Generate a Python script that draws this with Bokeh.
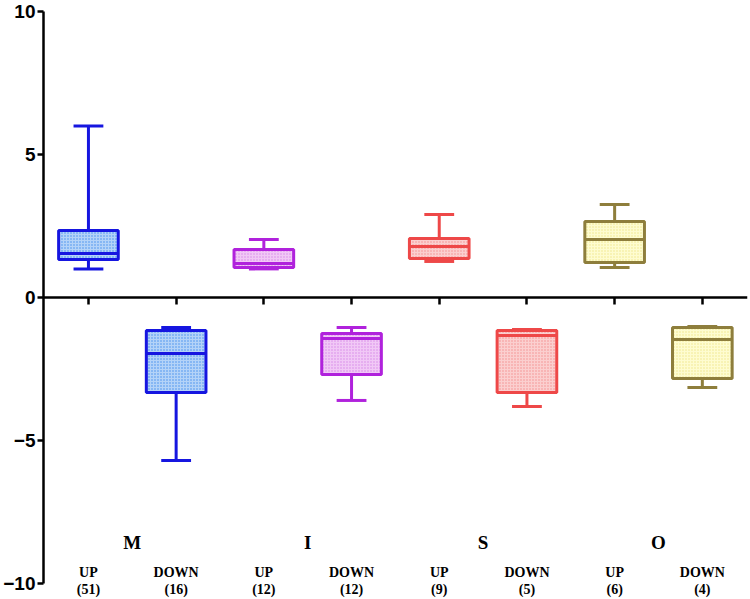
from bokeh.plotting import figure
from bokeh.models import Range1d, FixedTicker, ColumnDataSource, Label
from bokeh.embed import file_html
from bokeh.resources import INLINE

# ---- data ----
groups = ["M", "I", "S", "O"]
directions = ["UP", "DOWN", "UP", "DOWN", "UP", "DOWN", "UP", "DOWN"]
counts = [51, 16, 12, 12, 9, 5, 6, 4]
mins = [1.00, -5.70, 1.00, -3.60, 1.26, -3.81, 1.05, -3.15]
q1 = [1.33, -3.32, 1.05, -2.69, 1.36, -3.32, 1.22, -2.83]
medians = [1.54, -1.96, 1.19, -1.43, 1.78, -1.33, 2.03, -1.47]
q3 = [2.34, -1.15, 1.68, -1.26, 2.06, -1.15, 2.66, -1.05]
maxs = [6.00, -1.05, 2.03, -1.05, 2.90, -1.12, 3.25, -1.01]
y_ticks = [-10, -5, 0, 5, 10]

# ---- styling ----
line_colors = {"M": "#1616e0", "I": "#b022dc", "S": "#ee4848", "O": "#8e7e3c"}
fill_colors = {"M": "#b4d3f8", "I": "#f1c8f6", "S": "#fbcfcf", "O": "#fefcd0"}
hatch_colors = {"M": "#3f8cec", "I": "#d486e6", "S": "#f28e8e", "O": "#efe68a"}

pos = list(range(1, len(counts) + 1))
grp_of = [groups[i // 2] for i in range(len(counts))]
box_w = 0.68
cap_w = 0.34

src = ColumnDataSource(dict(
    x=pos, lo=mins, q1=q1, med=medians, q3=q3, hi=maxs,
    xl=[p - box_w / 2 for p in pos], xr=[p + box_w / 2 for p in pos],
    cl=[p - cap_w / 2 for p in pos], cr=[p + cap_w / 2 for p in pos],
    lc=[line_colors[g] for g in grp_of],
    fc=[fill_colors[g] for g in grp_of],
    hc=[hatch_colors[g] for g in grp_of],
))

p = figure(width=750, height=599, output_backend="svg", toolbar_location=None,
           x_range=Range1d(0.4875, 8.515), y_range=Range1d(-10.56, 10),
           min_border_left=43, min_border_right=3, min_border_top=11,
           min_border_bottom=0)
p.outline_line_color = None
p.grid.visible = False
p.background_fill_color = "white"

# whiskers
p.segment(x0="x", y0="q3", x1="x", y1="hi", source=src, line_color="lc", line_width=3)
p.segment(x0="x", y0="q1", x1="x", y1="lo", source=src, line_color="lc", line_width=3)
p.segment(x0="cl", y0="hi", x1="cr", y1="hi", source=src, line_color="lc", line_width=3)
p.segment(x0="cl", y0="lo", x1="cr", y1="lo", source=src, line_color="lc", line_width=3)
# boxes
p.vbar(x="x", width=box_w, bottom="q1", top="q3", source=src,
       fill_color="fc", line_color="lc", line_width=3,
       hatch_pattern="dot", hatch_color="hc", hatch_scale=3, hatch_weight=2)
# medians
p.segment(x0="xl", y0="med", x1="xr", y1="med", source=src, line_color="lc", line_width=3)

# y axis
ya = p.yaxis[0]
ya.ticker = FixedTicker(ticks=y_ticks)
ya.bounds = (-10, 10)
ya.axis_line_width = 2.5
ya.major_tick_line_width = 2.5
ya.major_tick_out = 6
ya.major_tick_in = 0
ya.minor_tick_line_color = None
ya.major_label_text_font = "Liberation Sans"
ya.major_label_text_font_style = "bold"
ya.major_label_text_font_size = "19px"
ya.major_label_text_color = "black"
ya.major_label_standoff = 2

# x axis at y = 0
xa = p.xaxis[0]
xa.fixed_location = 0
xa.ticker = FixedTicker(ticks=pos)
xa.axis_line_width = 2.5
xa.major_tick_line_width = 2.5
xa.major_tick_out = 7
xa.major_tick_in = 0
xa.minor_tick_line_color = None
xa.major_label_overrides = {i: "" for i in pos}

# labels
for i, g in enumerate(groups):
    p.add_layout(Label(x=2 * i + 1.5, y=-8.55, text=g, text_font="Liberation Serif",
                       text_font_style="bold", text_font_size="19px", text_color="black",
                       text_align="center", text_baseline="middle"))
for i, (d, c) in enumerate(zip(directions, counts)):
    p.add_layout(Label(x=pos[i], y=-9.6, text=d, text_font="Liberation Serif",
                       text_font_style="bold", text_font_size="14px", text_color="black",
                       text_align="center", text_baseline="middle"))
    p.add_layout(Label(x=pos[i], y=-10.22, text=f"({c})", text_font="Liberation Serif",
                       text_font_style="bold", text_font_size="14px", text_color="black",
                       text_align="center", text_baseline="middle"))

open("out.html", "w").write(file_html(p, INLINE))
